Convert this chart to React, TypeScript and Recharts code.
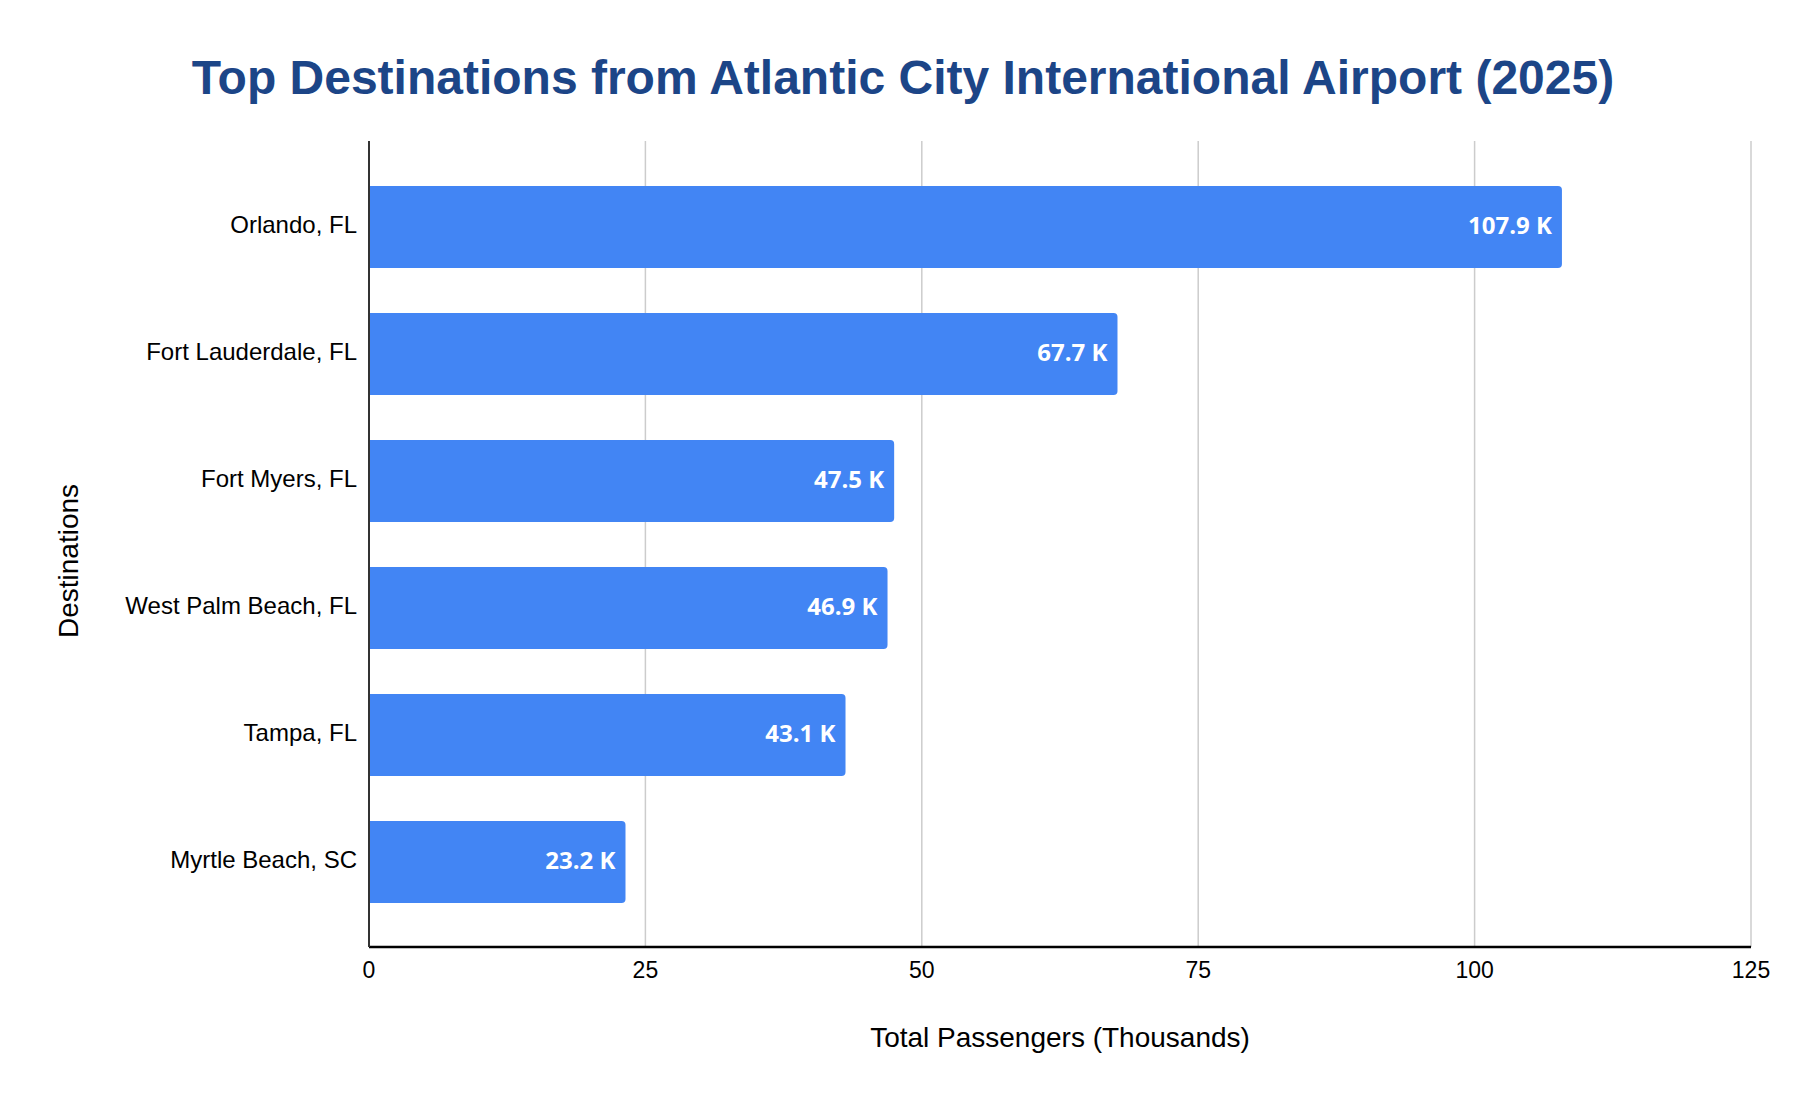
import React from "react";
import {
  Bar,
  BarChart,
  CartesianGrid,
  Label,
  LabelList,
  XAxis,
  YAxis,
} from "recharts";

const destinations = [
  "Orlando, FL",
  "Fort Lauderdale, FL",
  "Fort Myers, FL",
  "West Palm Beach, FL",
  "Tampa, FL",
  "Myrtle Beach, SC",
];
const passengers = [107.9, 67.7, 47.5, 46.9, 43.1, 23.2];
const xTicks = [0, 25, 50, 75, 100, 125];

const data = destinations.map((name, i) => ({ name, value: passengers[i] }));

const FONT = '"Liberation Sans", Arial, sans-serif';

const YTitle = () => (
  <text
    x={68}
    y={561}
    transform="rotate(-90, 68, 561)"
    textAnchor="middle"
    dominantBaseline="central"
    fontSize={28}
    fontFamily={FONT}
    fill="#000"
  >
    Destinations
  </text>
);

export default function App() {
  return (
    <div
      style={{
        position: "absolute",
        left: 0,
        top: 0,
        width: 1806,
        height: 1108,
        background: "#fff",
        fontFamily: FONT,
      }}
    >
      <div
        style={{
          position: "absolute",
          top: 54,
          left: 0,
          width: 1806,
          textAlign: "center",
          fontSize: 48,
          lineHeight: "48px",
          fontWeight: "bold",
          color: "#1c4587",
        }}
      >
        Top Destinations from Atlantic City International Airport (2025)
      </div>
      <BarChart
        width={1806}
        height={1108}
        data={data}
        layout="vertical"
        margin={{ top: 141, right: 55, bottom: 0, left: 129 }}
      >
        <CartesianGrid horizontal={false} stroke="#cccccc" strokeWidth={1.5} />
        <XAxis
          type="number"
          domain={[0, 125]}
          ticks={xTicks}
          height={161}
          tickLine={false}
          tickMargin={9}
          axisLine={{ stroke: "#000", strokeWidth: 2.5 }}
          tick={{ fontSize: 23, fill: "#000", fontFamily: FONT }}
        >
          <Label
            value="Total Passengers (Thousands)"
            position="insideTop"
            offset={80}
            fontSize={28}
            fill="#000"
            fontFamily={FONT}
          />
        </XAxis>
        <YAxis
          type="category"
          dataKey="name"
          width={240}
          padding={{ top: 22, bottom: 22 }}
          tickLine={false}
          tickMargin={6}
          axisLine={{ stroke: "#333", strokeWidth: 2 }}
          tick={{ fontSize: 24, fill: "#000", fontFamily: FONT, dy: -2 }}
        >
          <Label content={<YTitle />} />
        </YAxis>
        <Bar
          dataKey="value"
          fill="#4285f4"
          barSize={82}
          radius={[0, 4, 4, 0]}
          isAnimationActive={false}
        >
          <LabelList
            dataKey="value"
            position="insideRight"
            offset={10}
            formatter={(v: number) => `${v} K`}
            fill="#fff"
            fontSize={24}
            fontWeight="bold"
            fontFamily='"Open Sans", sans-serif'
            dy={-2}
          />
        </Bar>
      </BarChart>
    </div>
  );
}
